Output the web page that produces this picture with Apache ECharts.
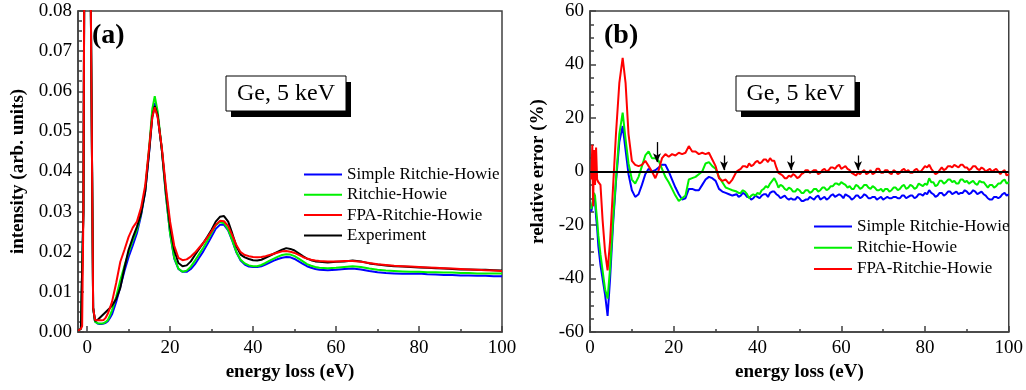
<!DOCTYPE html>
<html>
<head>
<meta charset="utf-8">
<script src="https://cdn.jsdelivr.net/npm/echarts@6/dist/echarts.min.js"></script>
<style>
  html, body { margin: 0; padding: 0; background: #ffffff; }
  #chart { width: 1026px; height: 390px; }
</style>
</head>
<body>
<div id="chart"></div>
<script>
// ---- panel (a): loss spectra, energy loss (eV) vs intensity ----
const energyA = [
  -2.2, -1.5, -1.2, -0.9, -0.72, -0.4, 0, 0.4, 0.7, 0.9,
  1.2, 1.45, 1.9, 2.5, 3, 3.5, 4, 4.5, 5, 5.5,
  6, 7, 8, 9, 10, 11, 12, 13, 14, 15,
  15.7, 16.3, 17, 18, 19, 20, 21, 22, 23, 24,
  25, 26, 27, 28, 29, 30, 31, 32, 33, 34,
  35, 36, 37, 38, 39, 40, 41, 42, 43, 44,
  45, 46, 47, 48, 49, 50, 51, 52, 53, 54,
  55, 56, 58, 60, 62, 64, 66, 68, 70, 72,
  74, 76, 78, 80, 82, 84, 86, 88, 90, 92,
  94, 96, 98, 100
];
const experimentA = [
  0.0003, 0.0008, 0.0012, 0.03, 0.08, 0.2, 0.3, 0.2, 0.12, 0.08,
  0.04, 0.006, 0.0028, 0.003, 0.0035, 0.004, 0.0045, 0.005, 0.0055, 0.006,
  0.0066, 0.0082, 0.011, 0.016, 0.0205, 0.0235, 0.0262, 0.0295, 0.035, 0.0455,
  0.0535, 0.0563, 0.054, 0.0455, 0.035, 0.0262, 0.0204, 0.0172, 0.0164, 0.0166,
  0.0176, 0.0192, 0.0207, 0.0222, 0.0238, 0.0255, 0.0275, 0.0287, 0.0289, 0.0275,
  0.0245, 0.0213, 0.0193, 0.0186, 0.0182, 0.0179, 0.0178, 0.018, 0.0185, 0.019,
  0.0195, 0.02, 0.0205, 0.0209, 0.0207, 0.0203, 0.0196, 0.0189, 0.0183, 0.0179,
  0.0176, 0.0175, 0.0173, 0.0175, 0.0176, 0.0178, 0.0176, 0.0171, 0.0168, 0.0166,
  0.0164, 0.0163, 0.0162, 0.0161, 0.016, 0.0159, 0.0158, 0.0157, 0.0156, 0.0156,
  0.0155, 0.0155, 0.0154, 0.0153
];
const fpaA = [
  0.0003, 0.0008, 0.0015, 0.03, 0.08, 0.2, 0.3, 0.2, 0.12, 0.08,
  0.04, 0.006, 0.003, 0.0029, 0.0029, 0.0029, 0.003, 0.0036, 0.0046, 0.006,
  0.0075, 0.0122, 0.0175, 0.0205, 0.0237, 0.026, 0.0275, 0.031, 0.0365, 0.0465,
  0.0535, 0.056, 0.0535, 0.046, 0.036, 0.0275, 0.0215, 0.0185, 0.0179, 0.0181,
  0.0188, 0.0198, 0.021, 0.0222, 0.0236, 0.0251, 0.0267, 0.0277, 0.0276, 0.0264,
  0.0241, 0.0216, 0.0199, 0.0192, 0.0189, 0.0187, 0.0186, 0.0187, 0.0189, 0.0192,
  0.0195, 0.0198, 0.0201, 0.0202, 0.02, 0.0197, 0.0192, 0.0187, 0.0183, 0.018,
  0.0178, 0.0177, 0.0176, 0.0176, 0.0177, 0.0177, 0.0175, 0.0172, 0.0169, 0.0167,
  0.0165, 0.0164, 0.0163, 0.0162, 0.0161, 0.016, 0.0159, 0.0158, 0.0157, 0.0156,
  0.0155, 0.0154, 0.0153, 0.0152
];
const ritchieA = [
  0.0003, 0.0008, 0.0012, 0.03, 0.08, 0.2, 0.3, 0.2, 0.12, 0.08,
  0.04, 0.006, 0.0026, 0.0022, 0.0021, 0.0021, 0.0022, 0.0025, 0.003, 0.0041,
  0.0054, 0.0088, 0.0129, 0.0165, 0.0198, 0.0228, 0.0255, 0.0295, 0.0355, 0.0465,
  0.0555, 0.0588, 0.055, 0.0455, 0.034, 0.0245, 0.0185, 0.0158, 0.015, 0.0153,
  0.0163, 0.0178, 0.0194, 0.021, 0.0228, 0.0247, 0.0266, 0.0274, 0.0271, 0.0255,
  0.0228, 0.0199, 0.018, 0.0171, 0.0166, 0.0164, 0.0164, 0.0167, 0.0172, 0.0178,
  0.0183, 0.0188, 0.0192, 0.0194, 0.0193, 0.0189, 0.0183, 0.0176, 0.0169, 0.0165,
  0.0162, 0.016, 0.0159, 0.016, 0.0162, 0.0164, 0.0162, 0.0158, 0.0155, 0.0153,
  0.0152, 0.0151, 0.015, 0.015, 0.0149, 0.0149, 0.0148, 0.0148, 0.0147, 0.0147,
  0.0146, 0.0146, 0.0146, 0.0146
];
const simpleA = [
  0.0003, 0.0008, 0.0012, 0.03, 0.08, 0.2, 0.3, 0.2, 0.12, 0.08,
  0.04, 0.006, 0.0026, 0.0021, 0.002, 0.002, 0.0021, 0.0023, 0.0027, 0.0035,
  0.0044, 0.0075, 0.0113, 0.0152, 0.0187, 0.0216, 0.0246, 0.029, 0.035, 0.0455,
  0.0545, 0.0571, 0.054, 0.0455, 0.034, 0.0245, 0.0183, 0.0157, 0.015, 0.015,
  0.0157, 0.0169, 0.0185, 0.0201, 0.0219, 0.0238, 0.0257, 0.0267, 0.0267, 0.0253,
  0.0227, 0.0198, 0.0178, 0.0168, 0.0163, 0.0162, 0.0162, 0.0164, 0.0168, 0.0173,
  0.0178, 0.0182, 0.0185, 0.0187, 0.0186, 0.0182, 0.0176, 0.017, 0.0164, 0.016,
  0.0157, 0.0155, 0.0154, 0.0155, 0.0157, 0.0158, 0.0156, 0.0152, 0.0149, 0.0147,
  0.0146, 0.0145, 0.0145, 0.0146, 0.0144, 0.0143, 0.0142, 0.0142, 0.0141, 0.0141,
  0.014, 0.014, 0.0139, 0.0139
];

// ---- panel (b): relative error (%) vs energy loss (eV) ----
const energyB = [
  0.3, 0.55, 0.75, 0.95, 1.2, 1.45, 1.7, 2.0, 2.5, 3.0,
  3.6, 4.2, 4.8, 5.5, 6.2, 7.0, 7.8, 8.5, 9.2, 10,
  10.8, 11.6, 12.4, 13.2, 14, 14.8, 15.6, 16.4, 17.2, 18,
  18.8, 19.6, 20.4, 21.2, 22, 22.8, 23.6, 24.4, 25.2, 26,
  26.8, 27.6, 28.4, 29.2, 30, 30.8, 31.6, 32.4, 33.2, 34,
  35, 35.5, 36, 36.5, 37, 37.5, 38, 38.5, 39, 39.5,
  40, 40.5, 41, 41.5, 42, 42.5, 43, 43.5, 44, 44.5,
  45, 45.5, 46, 46.5, 47, 47.5, 48, 48.5, 49, 49.5,
  50, 50.5, 51, 51.5, 52, 52.5, 53, 53.5, 54, 54.5,
  55, 55.5, 56, 56.5, 57, 57.5, 58, 58.5, 59, 59.5,
  60, 60.5, 61, 61.5, 62, 62.5, 63, 63.5, 64, 64.5,
  65, 65.5, 66, 66.5, 67, 67.5, 68, 68.5, 69, 69.5,
  70, 70.5, 71, 71.5, 72, 72.5, 73, 73.5, 74, 74.5,
  75, 75.5, 76, 76.5, 77, 77.5, 78, 78.5, 79, 79.5,
  80, 80.5, 81, 81.5, 82, 82.5, 83, 83.5, 84, 84.5,
  85, 85.5, 86, 86.5, 87, 87.5, 88, 88.5, 89, 89.5,
  90, 90.5, 91, 91.5, 92, 92.5, 93, 93.5, 94, 94.5,
  95, 95.5, 96, 96.5, 97, 97.5, 98, 98.5, 99, 99.5,
  100
];
const fpaB = [
  -3, 10, -13, 8, -5, 9, -3, -4, -5, -18,
  -30, -37, -26, -6, 14, 33, 42.5, 33, 14, 4,
  2.5, 2, 2.5, 4, 2, 0, -2.5, 0.5, 5, 6.5,
  5.5, 6.5, 6, 7, 6.5, 7, 9.5, 7.5, 7.5, 6.5,
  7, 6.5, 7, 4.5, 2, -2.5, -3.5, -3, -4.5, -3,
  0, 0.5, 1, 2, 2, 1.5, 3, 2, 2.5, 3.5,
  4, 3, 3.5, 4.5, 4.5, 3.5, 5, 4, 4, 1.5,
  -0.5, -1, -1.5, -2.5, -2.5, -1.5, -2, -1, -1.5, -2.5,
  -2, -1, -0.5, 0.5, 0.5, -0.5, 0, 0.5, 0.5, -1,
  -0.5, 0.5, 1, 0, 0.5, 1.5, 1.5, 1, 2, 2.5,
  1, 1.5, 2, 1, 0.5, -0.5, -1, -1.5, -0.5, -1,
  0, 0.5, -1, -0.5, 0.5, -1, -0.5, 1, 1, -0.5,
  -0.5, 0.5, 0.5, -0.5, -1, 0.5, 0, -1, -0.5, 0.5,
  1, 0, 0.5, -0.5, -0.5, 0.5, 1, 0, 0, 1,
  2, 1.5, 2.5, 1, 0, -1, -0.5, 0.5, 1.5, 0.5,
  1, 2, 2, 1.5, 2.5, 2, 1.5, 2.5, 2.5, 1.5,
  1.5, 0.5, 1, 2, 2, 1, 0.5, 1.5, 1, 0,
  0.5, 1, 0, 0.5, 1, 0, -1, 0, 0.5, -1.5,
  -1
];
const ritchieB = [
  -14, -12, -10, -8, -9, -14, -18, -24, -31, -37,
  -44, -47.5, -36, -18, -3, 14, 22, 12, 3, -3,
  -4.5, -2, 2, 6, 7.5, 5, 5, 4, 1, -2,
  -4, -6.5, -9, -11, -10, -9, -3, -2.5, -2, -1,
  0, 3, 3.5, 2, 1, -2, -4, -6, -6.5, -7,
  -7.5, -8, -8, -7, -7.5, -8.5, -10, -9, -8.5, -9,
  -8, -8.5, -7, -6.5, -5.5, -6, -4.5, -3.5, -2.5, -4,
  -6, -5, -5.5, -6.5, -7, -6, -6.5, -7.5, -7.5, -6.5,
  -7, -8, -8, -7, -7, -8, -7.5, -6.5, -6.5, -7.5,
  -7, -6, -6, -7, -6.5, -5.5, -5.5, -4.5, -4.5, -5,
  -4, -4.5, -5, -6, -5.5, -6.5, -6.5, -5, -5.5, -6.5,
  -6, -5, -5, -6, -6.5, -5.5, -6, -7, -7, -6.5,
  -7.5, -6.5, -6.5, -7.5, -7, -6, -6, -7, -6.5, -5.5,
  -5, -6.5, -6, -5, -5.5, -6.5, -6, -4.5, -5, -5.5,
  -4.5, -5, -2.5, -4, -4, -5.5, -5, -3.5, -3.5, -4.5,
  -4, -3, -3, -4, -3.5, -4.5, -4.5, -3, -3, -4,
  -3.5, -4.5, -4, -3.5, -4.5, -5, -3.5, -4, -4, -5,
  -6, -5, -5, -6, -5.5, -4.5, -4.5, -3.5, -3, -4.5,
  -4
];
const simpleB = [
  -15, -13, -11, -10, -11, -17, -21, -28, -35, -40,
  -46, -54, -40, -20, -4, 11, 17, 8, -1, -7,
  -9.5, -8.5, -5, -1, 1, 0, 0.5, 1.5, 2.5, 2.5,
  0, -3, -6, -8.5, -10.5, -10, -6.5, -6.5, -7, -7,
  -5, -3, -2, -2.5, -3.5, -6.5, -7.5, -8, -8.5, -9,
  -8.5, -9.5, -9, -8, -8.5, -9.5, -9.5, -10.5, -10, -9,
  -9.5, -10, -9, -8.5, -8.5, -9.5, -8, -7.5, -7.5, -8.5,
  -9, -10, -9.5, -9, -10, -10.5, -10, -10.5, -10.5, -9.5,
  -10, -11, -11, -10.5, -10.5, -9.5, -10, -10.5, -9.5, -9,
  -10.5, -10, -9.5, -10.5, -10, -9, -8.5, -9.5, -9, -8.5,
  -9, -10, -8.5, -9, -9.5, -10.5, -10, -9, -9, -10,
  -9.5, -8.5, -9, -10, -10, -9.5, -9.5, -10.5, -10, -9.5,
  -10.5, -10, -9.5, -10, -10, -9.5, -9.5, -10, -10, -9,
  -9, -10, -9.5, -9, -9, -10, -9.5, -8.5, -8.5, -9,
  -8, -8.5, -7, -8, -8.5, -9.5, -9, -8, -8, -9,
  -8.5, -7.5, -7.5, -8.5, -8, -7.5, -8.5, -8, -8, -7,
  -7.5, -8.5, -8, -7, -7.5, -8.5, -8, -7.5, -8.5, -9,
  -10, -10.5, -10.5, -9.5, -9.5, -10, -9.5, -8.5, -8, -9,
  -8.5
];

// down arrows at plasmon multiples (energy, top %, tip %)
const arrowEnergies = [16, 32, 48, 64];
const arrowTops = [11, 6, 6, 6];
const arrowTips = [3.5, 0.5, 0.5, 0.5];

// tick values for panel (a)
const xMajorA = [0, 20, 40, 60, 80, 100];
const xMinorA = [10, 30, 50, 70, 90];

const SERIF = '"Liberation Serif", "Times New Roman", serif';
const AXIS_COLOR = '#404040';
const COLORS = {
  simple: '#0000ff',
  ritchie: '#00f000',
  fpa: '#ff0000',
  exp: '#000000'
};

function pairs(xs, ys) {
  return xs.map((x, i) => [x, ys[i]]);
}

function curve(name, color, xs, ys, xi, yi) {
  return {
    type: 'line',
    name: name,
    xAxisIndex: xi,
    yAxisIndex: yi,
    data: pairs(xs, ys),
    symbol: 'none',
    showSymbol: false,
    clip: true,
    animation: false,
    lineStyle: { color: color, width: 2 },
    itemStyle: { color: color }
  };
}

const tickLine = { color: AXIS_COLOR, width: 1.5 };
const labelStyle = { fontFamily: SERIF, fontSize: 19, color: '#000' };
const nameStyle = { fontFamily: SERIF, fontSize: 19, fontWeight: 'bold', color: '#000' };
const legendText = { fontFamily: SERIF, fontSize: 17, color: '#000', lineHeight: 17 };

const chart = echarts.init(document.getElementById('chart'), null, { renderer: 'canvas' });

const option = {
  animation: false,
  backgroundColor: '#ffffff',
  grid: [
    { left: 78, right: 524, top: 11, bottom: 58, show: true, borderColor: AXIS_COLOR, borderWidth: 1.5, containLabel: false },
    { left: 590, right: 16, top: 11, bottom: 58, show: true, borderColor: AXIS_COLOR, borderWidth: 1.5, containLabel: false }
  ],
  xAxis: [
    {
      gridIndex: 0, type: 'value', min: -2.2, max: 100, position: 'bottom',
      axisLine: { show: true, onZero: false, lineStyle: tickLine },
      axisTick: { show: true, inside: true, length: 6, customValues: xMajorA, lineStyle: tickLine },
      axisLabel: { customValues: xMajorA, margin: 7, ...labelStyle },
      splitLine: { show: false },
      name: 'energy loss (eV)', nameLocation: 'middle', nameGap: 31, nameTextStyle: nameStyle
    },
    {
      gridIndex: 0, type: 'value', min: -2.2, max: 100, position: 'bottom',
      axisLine: { show: false },
      axisTick: { show: true, inside: true, length: 3, customValues: xMinorA, lineStyle: tickLine },
      axisLabel: { show: false },
      splitLine: { show: false }
    },
    {
      gridIndex: 1, type: 'value', min: 0, max: 100, interval: 20, position: 'bottom',
      axisLine: { show: true, onZero: false, lineStyle: tickLine },
      axisTick: { show: true, inside: true, length: 6, lineStyle: tickLine },
      minorTick: { show: true, splitNumber: 2, length: 3, lineStyle: tickLine },
      axisLabel: { margin: 7, ...labelStyle },
      splitLine: { show: false },
      name: 'energy loss (eV)', nameLocation: 'middle', nameGap: 31, nameTextStyle: nameStyle
    }
  ],
  yAxis: [
    {
      gridIndex: 0, type: 'value', min: 0, max: 0.08, interval: 0.01,
      axisLine: { show: true, onZero: false, lineStyle: tickLine },
      axisTick: { show: true, inside: true, length: 6, lineStyle: tickLine },
      minorTick: { show: true, splitNumber: 4, length: 4, lineStyle: tickLine },
      axisLabel: { margin: 6, formatter: v => v.toFixed(2), ...labelStyle },
      splitLine: { show: false },
      name: 'intensity (arb. units)', nameLocation: 'middle', nameGap: 50, nameTextStyle: nameStyle
    },
    {
      gridIndex: 1, type: 'value', min: -60, max: 60, interval: 20,
      axisLine: { show: true, onZero: false, lineStyle: tickLine },
      axisTick: { show: true, inside: true, length: 6, lineStyle: tickLine },
      minorTick: { show: true, splitNumber: 4, length: 4, lineStyle: tickLine },
      axisLabel: { margin: 6, ...labelStyle },
      splitLine: { show: false },
      name: 'relative error (%)', nameLocation: 'middle', nameGap: 42, nameTextStyle: nameStyle
    }
  ],
  legend: [
    {
      orient: 'vertical', left: 304, top: 166, padding: 0,
      icon: 'rect', itemWidth: 38, itemHeight: 2, itemGap: 3.3,
      selectedMode: false,
      data: ['Simple Ritchie-Howie', 'Ritchie-Howie', 'FPA-Ritchie-Howie', 'Experiment'],
      textStyle: legendText
    },
    {
      orient: 'vertical', left: 814, top: 218, padding: 0,
      icon: 'rect', itemWidth: 38, itemHeight: 2, itemGap: 4.2,
      selectedMode: false,
      data: ['Simple Ritchie-Howie', 'Ritchie-Howie', 'FPA-Ritchie-Howie'],
      textStyle: legendText
    }
  ],
  series: [
    curve('Simple Ritchie-Howie', COLORS.simple, energyA, simpleA, 0, 0),
    curve('Ritchie-Howie', COLORS.ritchie, energyA, ritchieA, 0, 0),
    curve('Experiment', COLORS.exp, energyA, experimentA, 0, 0),
    curve('FPA-Ritchie-Howie', COLORS.fpa, energyA, fpaA, 0, 0),
    curve('Simple Ritchie-Howie', COLORS.simple, energyB, simpleB, 2, 1),
    curve('Ritchie-Howie', COLORS.ritchie, energyB, ritchieB, 2, 1),
    Object.assign(curve('FPA-Ritchie-Howie', COLORS.fpa, energyB, fpaB, 2, 1), {
      markLine: {
        silent: true,
        animation: false,
        symbol: ['none', 'none'],
        label: { show: false },
        lineStyle: { color: '#000', width: 2, type: 'solid' },
        data: [{ yAxis: 0 }]
      }
    }),
    {
      type: 'line', name: 'arrows', xAxisIndex: 2, yAxisIndex: 1, data: [],
      symbol: 'none', animation: false,
      markLine: {
        silent: true,
        animation: false,
        symbol: ['none', 'arrow'],
        symbolSize: [6, 9],
        label: { show: false },
        lineStyle: { color: '#000', width: 1.3, type: 'solid' },
        itemStyle: { color: '#000' },
        data: arrowEnergies.map((e, i) => [
          { coord: [e, arrowTops[i]] },
          { coord: [e, arrowTips[i]] }
        ])
      }
    }
  ],
  graphic: [
    // panel tags
    { type: 'text', left: 92, top: 22, style: { text: '(a)', font: 'bold 28px ' + SERIF, fill: '#000' } },
    { type: 'text', left: 604, top: 22, style: { text: '(b)', font: 'bold 28px ' + SERIF, fill: '#000' } },
    // label box, panel (a)
    { type: 'rect', shape: { x: 231, y: 82, width: 120, height: 35 }, style: { fill: '#000' } },
    { type: 'rect', shape: { x: 226, y: 76, width: 120, height: 35 }, style: { fill: '#fff', stroke: '#000', lineWidth: 1 } },
    { type: 'text', style: { x: 286, y: 94, text: 'Ge, 5 keV', font: '24px ' + SERIF, fill: '#000', align: 'center', verticalAlign: 'middle' } },
    // label box, panel (b)
    { type: 'rect', shape: { x: 741, y: 82, width: 119, height: 35 }, style: { fill: '#000' } },
    { type: 'rect', shape: { x: 736, y: 76, width: 119, height: 35 }, style: { fill: '#fff', stroke: '#000', lineWidth: 1 } },
    { type: 'text', style: { x: 795.5, y: 94, text: 'Ge, 5 keV', font: '24px ' + SERIF, fill: '#000', align: 'center', verticalAlign: 'middle' } }
  ]
};

chart.setOption(option);
</script>
</body>
</html>
